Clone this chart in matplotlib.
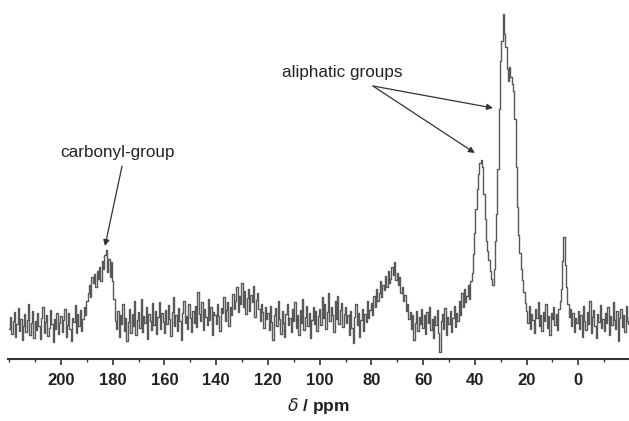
import matplotlib.pyplot as plt
import numpy as np

# chemical shift grid, 220 -> -20 ppm in 0.5 ppm steps
ppm = np.arange(220, -20.5, -0.5)

# intensity (arbitrary units), one row = 10 ppm
intensity = np.array([
    30, 42, 25, 38, 47, 22, 35, 51, 28, 40, 19, 33, 45, 27, 39, 55, 24, 36, 48, 21,
    38, 29, 46, 33, 20, 41, 52, 26, 37, 44, 23, 31, 49, 35, 17, 40, 30, 46, 25, 36,
    43, 27, 39, 50, 22, 34, 46, 30, 18, 41, 37, 54, 26, 45, 33, 49, 28, 40, 52, 44,
    58, 66, 74, 62, 82, 76, 85, 72, 88, 80, 92, 78, 98, 90, 104, 109, 87, 100, 82, 97,
    78, 60, 38, 30, 48, 22, 44, 35, 55, 28, 41, 18, 37, 50, 26, 45, 33, 58, 24, 39,
    47, 31, 60, 27, 43, 36, 52, 20, 45, 38, 29, 56, 34, 48, 25, 42, 57, 30, 46, 37,
    26, 49, 35, 54, 40, 23, 47, 62, 33, 44, 28, 51, 38, 19, 46, 58, 36, 43, 30, 55,
    41, 27, 48, 36, 53, 32, 67, 45, 38, 57, 29, 50, 42, 34, 60, 39, 52, 24, 47, 44,
    35, 55, 43, 28, 51, 46, 62, 38, 49, 57, 33, 52, 44, 65, 50, 58, 72, 47, 63, 55,
    76, 52, 68, 45, 61, 70, 48, 64, 57, 73, 42, 59, 66, 50, 38, 55, 47, 31, 52, 40,
    46, 29, 53, 37, 19, 44, 51, 33, 58, 40, 25, 48, 36, 22, 45, 55, 34, 41, 27, 50,
    38, 57, 31, 44, 24, 49, 36, 60, 29, 42, 53, 33, 46, 21, 39, 52, 35, 48, 28, 43,
    50, 34, 62, 41, 55, 30, 47, 66, 38, 52, 44, 27, 58, 40, 63, 35, 49, 56, 32, 45,
    52, 36, 44, 24, 48, 31, 16, 42, 55, 34, 46, 22, 39, 50, 28, 45, 37, 58, 41, 49,
    56, 44, 63, 52, 70, 58, 66, 78, 62, 74, 69, 83, 72, 88, 76, 80, 92, 84, 97, 79,
    86, 74, 82, 66, 72, 58, 64, 48, 55, 40, 47, 30, 44, 19, 36, 48, 28, 42, 35, 50,
    31, 44, 25, 47, 36, 52, 29, 40, 21, 43, 34, 49, 26, 7, 38, 45, 30, 51, 24, 42,
    35, 48, 27, 41, 53, 32, 46, 38, 58, 44, 66, 52, 70, 57, 63, 74, 60, 78, 86, 105,
    126, 150, 170, 185, 196, 199, 192, 165, 140, 118, 108, 99, 88, 80, 74, 90, 118, 145, 190, 250,
    298, 318, 345, 325, 312, 290, 278, 292, 282, 275, 268, 240, 192, 152, 124, 106, 90, 79, 67, 56,
    48, 36, 53, 30, 45, 39, 26, 50, 41, 57, 33, 44, 28, 47, 38, 55, 31, 43, 24, 46,
    40, 52, 34, 45, 29, 50, 58, 70, 98, 122, 94, 72, 55, 42, 50, 33, 46, 27, 41, 36,
    48, 30, 44, 22, 53, 38, 29, 47, 35, 58, 26, 42, 49, 33, 21, 45, 37, 54, 31, 40,
    28, 46, 36, 52, 24, 43, 34, 57, 39, 30, 48, 18, 41, 50, 32, 44, 27, 53, 38, 35,
    42,
])

tick_vals = np.arange(0, 201, 20)

fig = plt.figure(figsize=(6.29, 4.21), dpi=100)
ax = fig.add_axes([8 / 629, 62 / 421, 621 / 629, 359 / 421])

ax.plot(ppm, intensity, color='#585858', lw=1.0, drawstyle='steps-mid')

ax.set_xlim(220.5, -19.6)
ax.set_ylim(0, 359)

for s in ['left', 'right', 'top']:
    ax.spines[s].set_visible(False)
ax.spines['bottom'].set_linewidth(1.5)
ax.spines['bottom'].set_color('#333333')
ax.set_yticks([])

ax.set_xticks(tick_vals)
ax.set_xticks(np.arange(-10, 221, 10), minor=True)
ax.tick_params(axis='x', which='major', length=4, width=1.2, color='#333333', pad=6)
ax.tick_params(axis='x', which='minor', length=2.5, width=1.0, color='#333333')
for lbl in ax.get_xticklabels():
    lbl.set_fontfamily('Liberation Sans')
    lbl.set_fontweight('bold')
    lbl.set_fontsize(12)
    lbl.set_color('#222222')

ax.set_xlabel(r'$\delta$ / ppm', fontfamily='Liberation Sans', fontweight='bold',
              fontsize=12.5, color='#222222', labelpad=6)

arrow = dict(arrowstyle='-|>', color='#333333', lw=0.9, mutation_scale=9,
             shrinkA=0, shrinkB=0)
ax.text(178.3, 207, 'carbonyl-group', ha='center', va='center',
        fontfamily='Liberation Sans', fontsize=12.3, color='#222222')
ax.annotate('', xy=(183.0, 113), xytext=(176.4, 193), arrowprops=arrow)

ax.text(91.4, 287, 'aliphatic groups', ha='center', va='center',
        fontfamily='Liberation Sans', fontsize=12.3, color='#222222')
ax.annotate('', xy=(33.0, 251), xytext=(79.4, 273), arrowprops=arrow)
ax.annotate('', xy=(40.0, 206), xytext=(79.4, 273), arrowprops=arrow)

fig.savefig('out.png', dpi=100)
